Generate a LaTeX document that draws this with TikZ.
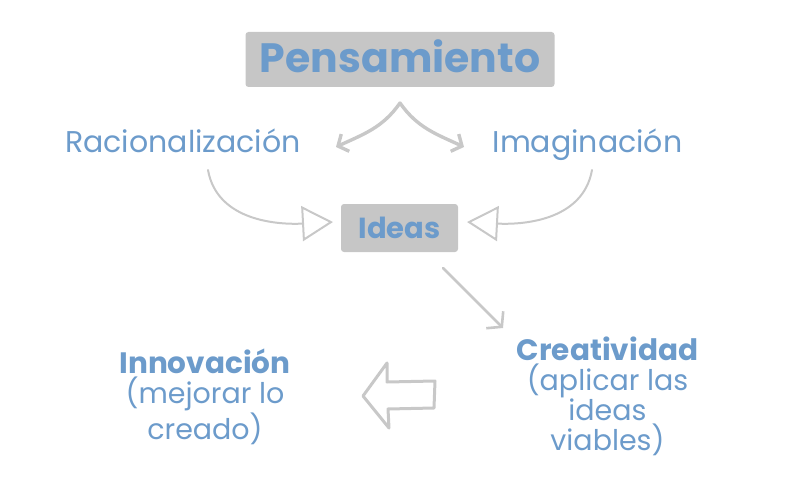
\documentclass[tikz,border=0pt]{standalone}
\usepackage{fontspec}
\setmainfont{Poppins}
\usetikzlibrary{arrows.meta}
\definecolor{ideaBlue}{RGB}{108,155,203}
\definecolor{boxGray}{RGB}{198,198,198}
\definecolor{lineGray}{RGB}{200,200,200}
\begin{document}
\begin{tikzpicture}
[x=1pt,y=1pt,
  boxDecorate/.style={fill=boxGray,rounded corners=3pt,text=ideaBlue,inner sep=0pt,text depth=0pt},
  textDecorate/.style={text=ideaBlue,align=center,anchor=base,inner sep=0pt},
  forkDecorate/.style={draw=lineGray,line width=3.4pt,line cap=round,
    -{Straight Barb[length=8pt,width=19pt]}},
  curveDecorate/.style={draw=lineGray,line width=2pt,line cap=round,
    -{Triangle[open,length=31pt,width=35pt]}},
  stepDecorate/.style={draw=lineGray,line width=2.6pt,line cap=round,
    -{Straight Barb[length=10pt,width=24pt]}},
  blockDecorate/.style={draw=lineGray,line width=3pt,line join=round}]
\useasboundingbox (0,0) rectangle (800,-484);
%% boxes
\node (pens) at (400,-59.5) [boxDecorate,minimum width=309pt,minimum height=55pt,
  text height=27pt,font=\fontsize{41}{44}\selectfont\bfseries] {Pensamiento};
\node (ideas) at (399.5,-228) [boxDecorate,minimum width=117pt,minimum height=48pt,
  text height=20pt,font=\fontsize{29}{30}\selectfont\bfseries] {Ideas};
%% labels
\node (racio) at (183,-153) [textDecorate,font=\fontsize{30}{30}\selectfont] {Racionalización};
\node (imag) at (587.5,-153) [textDecorate,font=\fontsize{30}{30}\selectfont] {Imaginación};
\node (crea) at (607.5,-450) [textDecorate,font=\fontsize{28.5}{30}\selectfont]
  {{\fontsize{29.5}{30}\selectfont\bfseries Creatividad}\\(aplicar las\\ideas\\viables)};
\node (innov) at (205,-439) [textDecorate,font=\fontsize{28.5}{30.5}\selectfont]
  {{\fontsize{29.5}{30.5}\selectfont\bfseries Innovación}\\(mejorar lo\\creado)};
%% connector ends
\foreach \cname/\x/\y in {
  forkTop/400/-103, forkLeft/336/-147, forkRight/464/-147,
  racioOut/208/-170, ideasLeft/333/-222, imagOut/592/-170, ideasRight/467/-222,
  ideasOut/443/-268, creaIn/503/-328}
{
  \coordinate (\cname) at (\x,\y);
}
%% edges
\draw[forkDecorate] (forkTop) to[out=235,in=25] (forkLeft);
\draw[forkDecorate] (forkTop) to[out=-55,in=155] (forkRight);
\draw[curveDecorate] (racioOut) to[out=-80,in=183] (ideasLeft);
\draw[curveDecorate] (imagOut) to[out=-100,in=-3] (ideasRight);
\draw[stepDecorate] (ideasOut) -- (creaIn);
%% hollow arrow back to innovation
\draw[blockDecorate] (363,-396) -- (387,-363) -- (387,-382) -- (435,-381)
  -- (434,-408) -- (388,-409) -- (389,-428) -- cycle;
\end{tikzpicture}
\end{document}
